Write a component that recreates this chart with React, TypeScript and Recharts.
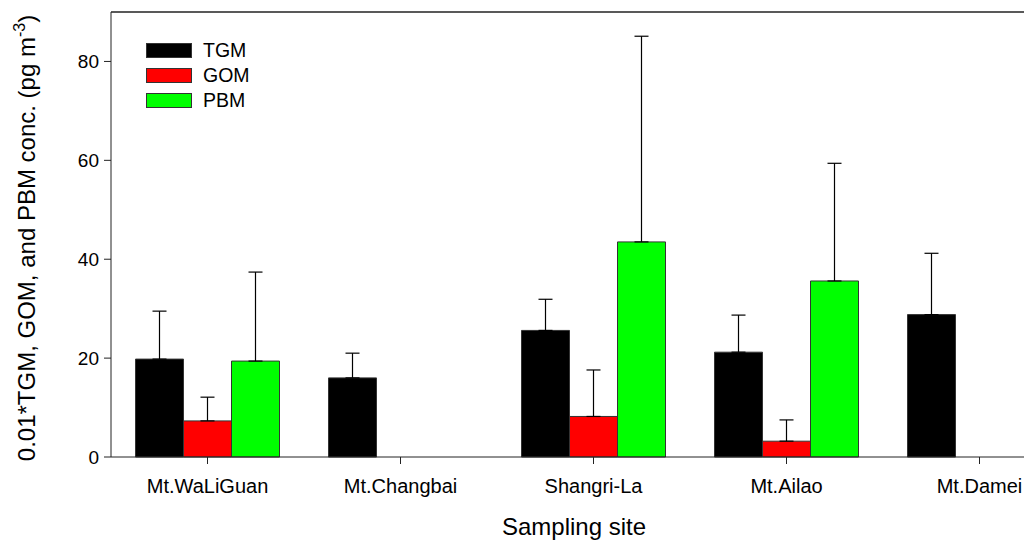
import { BarChart, Bar, XAxis, YAxis, ErrorBar, ReferenceLine } from "recharts"

const sites = ["Mt.WaLiGuan", "Mt.Changbai", "Shangri-La", "Mt.Ailao", "Mt.Damei"]
const tgm = [19.8, 16.0, 25.6, 21.2, 28.8]
const tgmSd = [9.7, 5.0, 6.3, 7.5, 12.4]
const gom = [7.3, null, 8.2, 3.2, null]
const gomSd = [4.8, null, 9.4, 4.3, null]
const pbm = [19.4, null, 43.5, 35.6, null]
const pbmSd = [18.0, null, 41.6, 23.8, null]
const yTicks = [0, 20, 40, 60, 80]

const series = [
  { key: "TGM", color: "#000000" },
  { key: "GOM", color: "#ff0000" },
  { key: "PBM", color: "#00ff00" },
]

// error bars only go up, so the low bound is 0
const up = (sd: number | null) => (sd == null ? null : [0, sd])

const data = sites.map((site, i) => ({
  site,
  TGM: tgm[i],
  GOM: gom[i],
  PBM: pbm[i],
  tgmErr: up(tgmSd[i]),
  gomErr: up(gomSd[i]),
  pbmErr: up(pbmSd[i]),
}))

const FONT = "'Liberation Sans', Arial, Helvetica, sans-serif"

// legend + axis titles, drawn straight into the svg
function Decor() {
  return (
    <g style={{ fontFamily: FONT }}>
      {series.map((s, i) => (
        <g key={s.key}>
          <rect x={146.5} y={43.5 + i * 25} width={45} height={14} fill={s.color} stroke="#333" strokeWidth={1} />
          <text x={203} y={57 + i * 25} fontSize={19.5} fill="#000">
            {s.key}
          </text>
        </g>
      ))}
      <text x={574} y={535} textAnchor="middle" fontSize={24} fill="#000">
        Sampling site
      </text>
      <text x={35} y={238} textAnchor="middle" fontSize={24} fill="#000" transform="rotate(-90 35 238)">
        0.01*TGM, GOM, and PBM conc. (pg m
        <tspan dy={-10} fontSize={16}>-3</tspan>
        <tspan dy={10}>)</tspan>
      </text>
    </g>
  )
}

export default function App() {
  return (
    <div style={{ position: "absolute", left: 0, top: 0, width: 1024, height: 540, overflow: "hidden", background: "#fff" }}>
      <BarChart
        width={1100}
        height={540}
        data={data}
        margin={{ top: 12, right: 24, left: 0, bottom: 53 }}
        barCategoryGap={24.5}
        barGap={0}
      >
        <XAxis
          dataKey="site"
          height={30}
          stroke="#222"
          tickSize={7}
          tickMargin={15}
          tick={{ fontFamily: FONT, fontSize: 20, fill: "#000" }}
        />
        <YAxis
          width={111}
          domain={[0, 90]}
          ticks={yTicks}
          stroke="#222"
          tickSize={7}
          tickMargin={5}
          tick={{ fontFamily: FONT, fontSize: 19, fill: "#000" }}
        />
        <ReferenceLine y={90} stroke="#222" strokeWidth={1.5} />
        <Bar dataKey="TGM" fill="#000000" stroke="#333" strokeWidth={1} isAnimationActive={false}>
          <ErrorBar dataKey="tgmErr" width={7} stroke="#000" strokeWidth={1.2} direction="y" />
        </Bar>
        <Bar dataKey="GOM" fill="#ff0000" stroke="#333" strokeWidth={1} isAnimationActive={false}>
          <ErrorBar dataKey="gomErr" width={7} stroke="#000" strokeWidth={1.2} direction="y" />
        </Bar>
        <Bar dataKey="PBM" fill="#00ff00" stroke="#333" strokeWidth={1} isAnimationActive={false}>
          <ErrorBar dataKey="pbmErr" width={7} stroke="#000" strokeWidth={1.2} direction="y" />
        </Bar>
        <Decor />
      </BarChart>
    </div>
  )
}
